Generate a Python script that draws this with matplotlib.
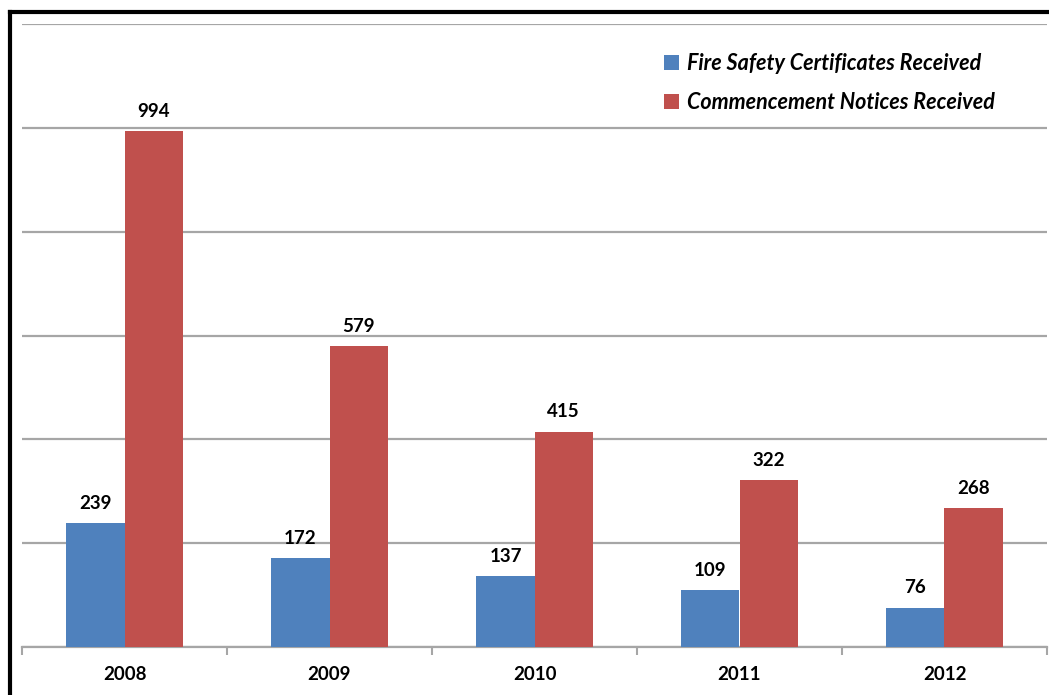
import matplotlib.pyplot as plt
from matplotlib.lines import Line2D
import numpy as np

years = ["2008", "2009", "2010", "2011", "2012"]
fire_safety = [239, 172, 137, 109, 76]
commencement = [994, 579, 415, 322, 268]

blue = "#4F81BD"
red = "#C0504D"
grid_col = "#A6A6A6"
font = ["Lato", "DejaVu Sans"]

fig = plt.figure(figsize=(10.49, 6.95), dpi=100)
ax = fig.add_axes([22 / 1049, 1 - 647 / 695, (1047 - 22) / 1049, (647 - 24) / 695])

x = np.arange(len(years))
w = 0.283
b1 = ax.bar(x - w / 2, fire_safety, w, color=blue, label="Fire Safety Certificates Received", zorder=3)
b2 = ax.bar(x + w / 2, commencement, w, color=red, label="Commencement Notices Received", zorder=3)

for bars in (b1, b2):
    for r in bars:
        ax.annotate(str(int(r.get_height())), (r.get_x() + r.get_width() / 2, r.get_height()),
                    xytext=(0, 8), textcoords="offset points", ha="center", va="bottom",
                    fontsize=13.5, fontweight="bold", family=font, color="black")

ax.set_xlim(-0.5, len(years) - 0.5)
ax.set_ylim(0, 1200)
ax.set_yticks(np.arange(0, 1201, 200))
ax.yaxis.grid(True, color=grid_col, linewidth=1.6, zorder=0)
ax.tick_params(axis="y", length=0, labelleft=False)

ax.set_xticks(x)
ax.set_xticklabels(years, fontsize=13.5, fontweight="bold", family=font)
ax.tick_params(axis="x", which="major", length=0, pad=14)
ax.set_xticks(np.arange(-0.5, len(years)), minor=True)
ax.tick_params(axis="x", which="minor", length=6, width=1.5, color=grid_col)

for s in ["top", "right", "left"]:
    ax.spines[s].set_visible(False)
ax.spines["bottom"].set_color(grid_col)
ax.spines["bottom"].set_linewidth(1.6)

leg = ax.legend(loc="upper right", bbox_to_anchor=(0.968, 0.985), frameon=False,
                prop={"family": font, "size": 15.5, "weight": "bold", "style": "italic"},
                handlelength=0.7, handleheight=0.7, handletextpad=0.35, labelspacing=0.85)

# black frame along top and left edge
fig.add_artist(Line2D([10 / 1049, 1], [1 - 12 / 695, 1 - 12 / 695], color="black", linewidth=3, transform=fig.transFigure))
fig.add_artist(Line2D([10 / 1049, 10 / 1049], [0, 1 - 12 / 695], color="black", linewidth=3, transform=fig.transFigure))

fig.savefig("out.png", dpi=100)
